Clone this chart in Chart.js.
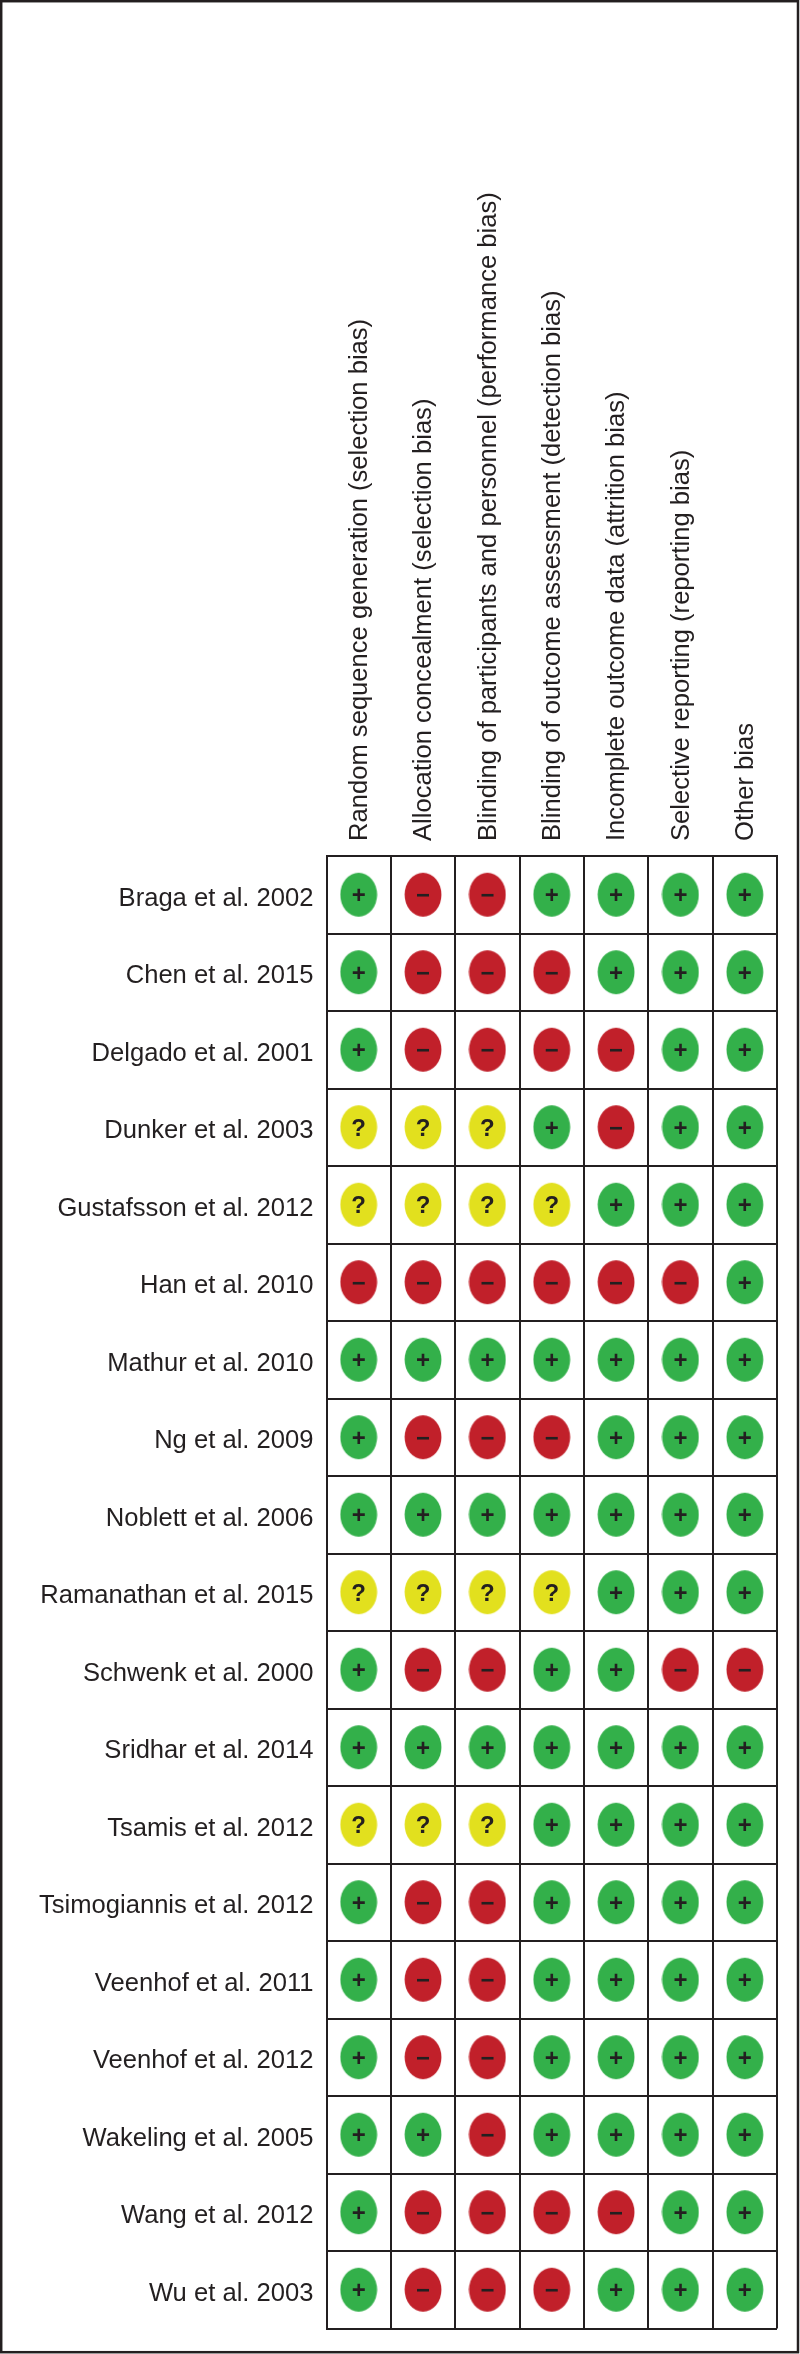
<!DOCTYPE html>
<html>
<head>
<meta charset="utf-8">
<style>
  html, body { margin: 0; padding: 0; background: #fff; }
  #wrap { position: relative; width: 800px; height: 2354px; }
  canvas { display: block; }
</style>
<script src="https://cdn.jsdelivr.net/npm/chart.js@4/dist/chart.umd.min.js"></script>
</head>
<body>
<div id="wrap"><canvas id="chart" width="800" height="2354"></canvas></div>
<script>
const studies = ["Braga et al. 2002", "Chen et al. 2015", "Delgado et al. 2001", "Dunker et al. 2003",
  "Gustafsson et al. 2012", "Han et al. 2010", "Mathur et al. 2010", "Ng et al. 2009",
  "Noblett et al. 2006", "Ramanathan et al. 2015", "Schwenk et al. 2000", "Sridhar et al. 2014",
  "Tsamis et al. 2012", "Tsimogiannis et al. 2012", "Veenhof et al. 2011", "Veenhof et al. 2012",
  "Wakeling et al. 2005", "Wang et al. 2012", "Wu et al. 2003"];

const domains = ["Random sequence generation (selection bias)", "Allocation concealment (selection bias)",
  "Blinding of participants and personnel (performance bias)", "Blinding of outcome assessment (detection bias)",
  "Incomplete outcome data (attrition bias)", "Selective reporting (reporting bias)", "Other bias"];

// one rating per study, same order as studies
const randomSequence = ["+","+","+","?","?","-","+","+","+","?","+","+","?","+","+","+","+","+","+"];
const allocation     = ["-","-","-","?","?","-","+","-","+","?","-","+","?","-","-","-","+","-","-"];
const blindingStaff  = ["-","-","-","?","?","-","+","-","+","?","-","+","?","-","-","-","-","-","-"];
const blindingOutcome= ["+","-","-","+","?","-","+","-","+","?","+","+","+","+","+","+","+","-","-"];
const incomplete     = ["+","+","-","-","+","-","+","+","+","+","+","+","+","+","+","+","+","-","+"];
const selective      = ["+","+","+","+","+","-","+","+","+","+","-","+","+","+","+","+","+","+","+"];
const otherBias      = ["+","+","+","+","+","+","+","+","+","+","-","+","+","+","+","+","+","+","+"];

const ratings = [randomSequence, allocation, blindingStaff, blindingOutcome, incomplete, selective, otherBias];

const ink = "#231f20";
const fills = { "+": "#33b04a", "-": "#c1202a", "?": "#e2e01e" };
const glyphs = { "+": "+", "-": "\u2212", "?": "?" };

// canvas point style, the dots are taller than wide so a circle won't do
function makeDot(color) {
  const c = document.createElement("canvas");
  c.width = 38;
  c.height = 46;
  const g = c.getContext("2d");
  g.fillStyle = color;
  g.beginPath();
  g.ellipse(19, 23, 18.4, 22, 0, 0, Math.PI * 2);
  g.fill();
  return c;
}
const dots = { "+": makeDot(fills["+"]), "-": makeDot(fills["-"]), "?": makeDot(fills["?"]) };

const points = [];
domains.forEach((d, i) => {
  studies.forEach((s, j) => points.push({ x: d, y: s, r: ratings[i][j] }));
});

// tick labels overhang the plot, without this the layout shrinks the grid
function noPadding(scale) {
  scale.paddingTop = 0;
  scale.paddingBottom = 0;
  scale.paddingLeft = 0;
  scale.paddingRight = 0;
}

// outer frame of the figure
const framePlugin = {
  id: "frame",
  beforeDraw(chart) {
    const ctx = chart.ctx;
    ctx.save();
    ctx.strokeStyle = ink;
    ctx.lineWidth = 2.5;
    ctx.strokeRect(1.2, 1.2, 796.8, 2351);
    ctx.restore();
  }
};

// + - ? on top of the dots
const symbolPlugin = {
  id: "symbols",
  afterDatasetsDraw(chart) {
    const ctx = chart.ctx;
    const els = chart.getDatasetMeta(0).data;
    ctx.save();
    ctx.fillStyle = ink;
    ctx.textAlign = "center";
    ctx.textBaseline = "middle";
    ctx.font = "bold 24px 'Liberation Sans'";
    els.forEach((el, i) => {
      const r = points[i].r;
      ctx.fillText(glyphs[r], el.x, el.y + 2);
    });
    ctx.restore();
  }
};

new Chart(document.getElementById("chart"), {
  type: "scatter",
  data: {
    datasets: [{
      data: points,
      pointStyle: points.map(p => dots[p.r]),
      pointRadius: 22,
      pointHoverRadius: 22
    }]
  },
  plugins: [framePlugin, symbolPlugin],
  options: {
    responsive: false,
    animation: false,
    layout: { padding: { top: 0, left: 0, right: 21.5, bottom: 25.5 } },
    plugins: { legend: { display: false }, tooltip: { enabled: false } },
    scales: {
      x: {
        type: "category",
        position: "top",
        labels: domains,
        offset: true,
        grid: { offset: true, color: ink, lineWidth: 2, drawTicks: false },
        border: { color: ink, width: 2 },
        ticks: {
          color: ink,
          autoSkip: false,
          minRotation: 90,
          maxRotation: 90,
          padding: 15,
          labelOffset: 32,
          font: { family: "'Liberation Sans'", size: 25.6 }
        },
        afterFit(scale) { scale.height = 856; noPadding(scale); }
      },
      y: {
        type: "category",
        labels: studies,
        offset: true,
        grid: { offset: true, color: ink, lineWidth: 2, drawTicks: false },
        border: { color: ink, width: 2 },
        ticks: {
          color: ink,
          autoSkip: false,
          padding: 13,
          labelOffset: 4,
          font: { family: "'Liberation Sans'", size: 25.6 }
        },
        afterFit(scale) { scale.width = 326.5; noPadding(scale); }
      }
    }
  }
});
</script>
</body>
</html>
